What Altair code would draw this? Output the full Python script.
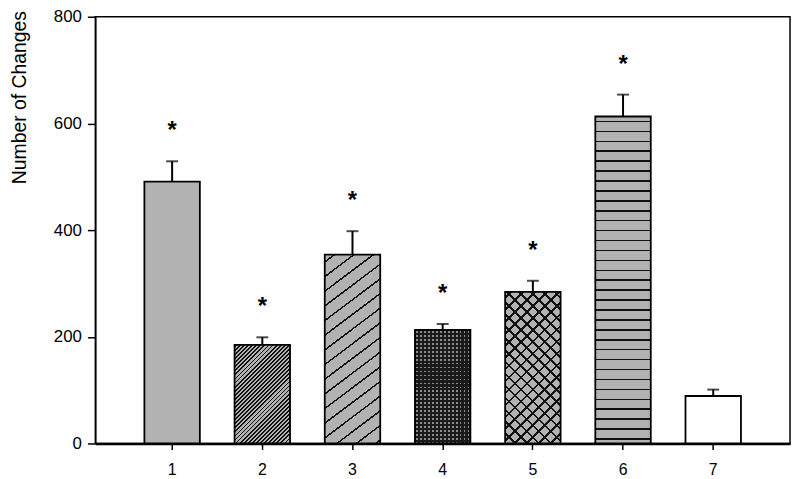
import math
import altair as alt
import pandas as pd

# ---- data ----
groups = ["1", "2", "3", "4", "5", "6", "7"]
means = [491, 185, 354, 213, 284, 613, 89]
upper_err = [38, 14, 44, 11, 21, 41, 12]
marked = [True, True, True, True, True, True, False]
y_ticks = [0, 200, 400, 600, 800]

# ---- layout / style ----
Y_MAX = 800
PLOT_W = 700
PLOT_H = 430
TOP_PAD = 7
LEFT_PAD = 88
PAD_INNER = 0.385
PAD_OUTER = 0.544
GRAY = "#b2b2b2"
INK = "#111111"
CLEAR = "rgba(0,0,0,0)"
FONT = "Liberation Sans"

step = PLOT_W / (len(groups) - PAD_INNER + 2 * PAD_OUTER)
bar_w = step * (1 - PAD_INNER)


def bar_h(v):
    return v * PLOT_H / Y_MAX


def stripe_stops(n_periods, frac, line, bg):
    period = 1.0 / n_periods
    out = [{"offset": 0.0, "color": bg}]
    i = 0
    while True:
        a = i * period + period * (1 - frac) / 2
        if a >= 1:
            break
        b = min(a + frac * period, 1.0)
        a = round(a, 5)
        b = round(b, 5)
        out += [
            {"offset": a, "color": bg},
            {"offset": a, "color": line},
            {"offset": b, "color": line},
            {"offset": b, "color": bg},
        ]
        i += 1
    out.append({"offset": 1.0, "color": bg})
    return out


def hatch(value, angle_deg, spacing, frac, line, bg, mirror=False):
    w, h = bar_w, bar_h(value)
    th = math.radians(angle_deg)
    s, c = math.sin(th), math.cos(th)
    smax = w * s + h * c
    k = smax / (w * w * s * s + h * h * c * c)
    gx, gy = k * w * s, k * h * c
    x1, x2 = (1.0, 1.0 - gx) if mirror else (0.0, gx)
    return {
        "gradient": "linear",
        "x1": round(x1, 5), "y1": 0.0, "x2": round(x2, 5), "y2": round(gy, 5),
        "stops": stripe_stops(smax / spacing, frac, line, bg),
    }


fills = {
    "1": [GRAY],
    "2": [hatch(means[1], 45, 2.9, 0.45, INK, GRAY)],
    "3": [hatch(means[2], 37, 11.8, 0.13, INK, GRAY)],
    "4": [hatch(means[3], 0, 4, 0.45, "#8c8c8c", "#1a1a1a"),
          hatch(means[3], 90, 4, 0.45, CLEAR, "#1a1a1a")],
    "5": [hatch(means[4], 45, 8.5, 0.22, INK, GRAY),
          hatch(means[4], 45, 8.5, 0.22, INK, CLEAR, mirror=True)],
    "6": [hatch(means[5], 0, 10, 0.15, INK, GRAY)],
    "7": ["white"],
}

df = pd.DataFrame({
    "group": groups,
    "mean": means,
    "top": [m + e for m, e in zip(means, upper_err)],
    "marked": marked,
})

x_enc = alt.X(
    "group:O",
    scale=alt.Scale(domain=groups, paddingInner=PAD_INNER, paddingOuter=PAD_OUTER),
    axis=alt.Axis(title=None, labelAngle=0, tickSize=6, tickWidth=1.5,
                  domainWidth=2.5, labelPadding=12, labelFontSize=16),
)
y_scale = alt.Scale(domain=[0, Y_MAX], nice=False)
y_axis = alt.Axis(
    title="Number of Changes", values=y_ticks, tickSize=8, tickWidth=1.5,
    domainWidth=1.5, labelPadding=6, labelFontSize=17,
    titleFontSize=19.5, titleFontWeight="normal", titleAngle=-90,
    titleBaseline="top", titleAlign="center", titleX=-LEFT_PAD + 3,
    titleY=96 - 8 - TOP_PAD,
)
y_enc = alt.Y("mean:Q", scale=y_scale, axis=y_axis)

base = alt.Chart(df)
layers = []
for g in groups:
    for f in fills[g]:
        layers.append(
            base.transform_filter(alt.datum.group == g)
            .mark_bar(fill=f, strokeWidth=0)
            .encode(x=x_enc, y=y_enc)
        )

outline = base.mark_bar(fillOpacity=0, stroke="black", strokeWidth=1.8).encode(x=x_enc, y=y_enc)
err_rule = base.mark_rule(color="black", strokeWidth=2).encode(
    x=x_enc, y=alt.Y("mean:Q", scale=y_scale, axis=y_axis), y2="top:Q")
err_cap = base.mark_tick(color="black", thickness=2, size=12).encode(
    x=x_enc, y=alt.Y("top:Q", scale=y_scale, axis=y_axis))
stars = base.transform_filter(alt.datum.marked).mark_text(
    text="*", fontSize=24, fontWeight="bold", font=FONT, baseline="alphabetic",
    dy=-23, color="black").encode(
    x=x_enc, y=alt.Y("top:Q", scale=y_scale, axis=y_axis))

chart = alt.layer(*layers, outline, err_rule, err_cap, stars).properties(
    width=PLOT_W, height=PLOT_H,
    padding={"left": LEFT_PAD, "top": TOP_PAD, "right": 2, "bottom": 34},
    autosize=alt.AutoSizeParams(type="none"),
).configure_view(stroke="black", strokeWidth=1.5).configure_axis(
    grid=False, domainColor="black", tickColor="black", labelColor="black",
    titleColor="black", labelFont=FONT, titleFont=FONT,
)

chart.save("out.html", embed_options={"renderer": "svg", "actions": False})
